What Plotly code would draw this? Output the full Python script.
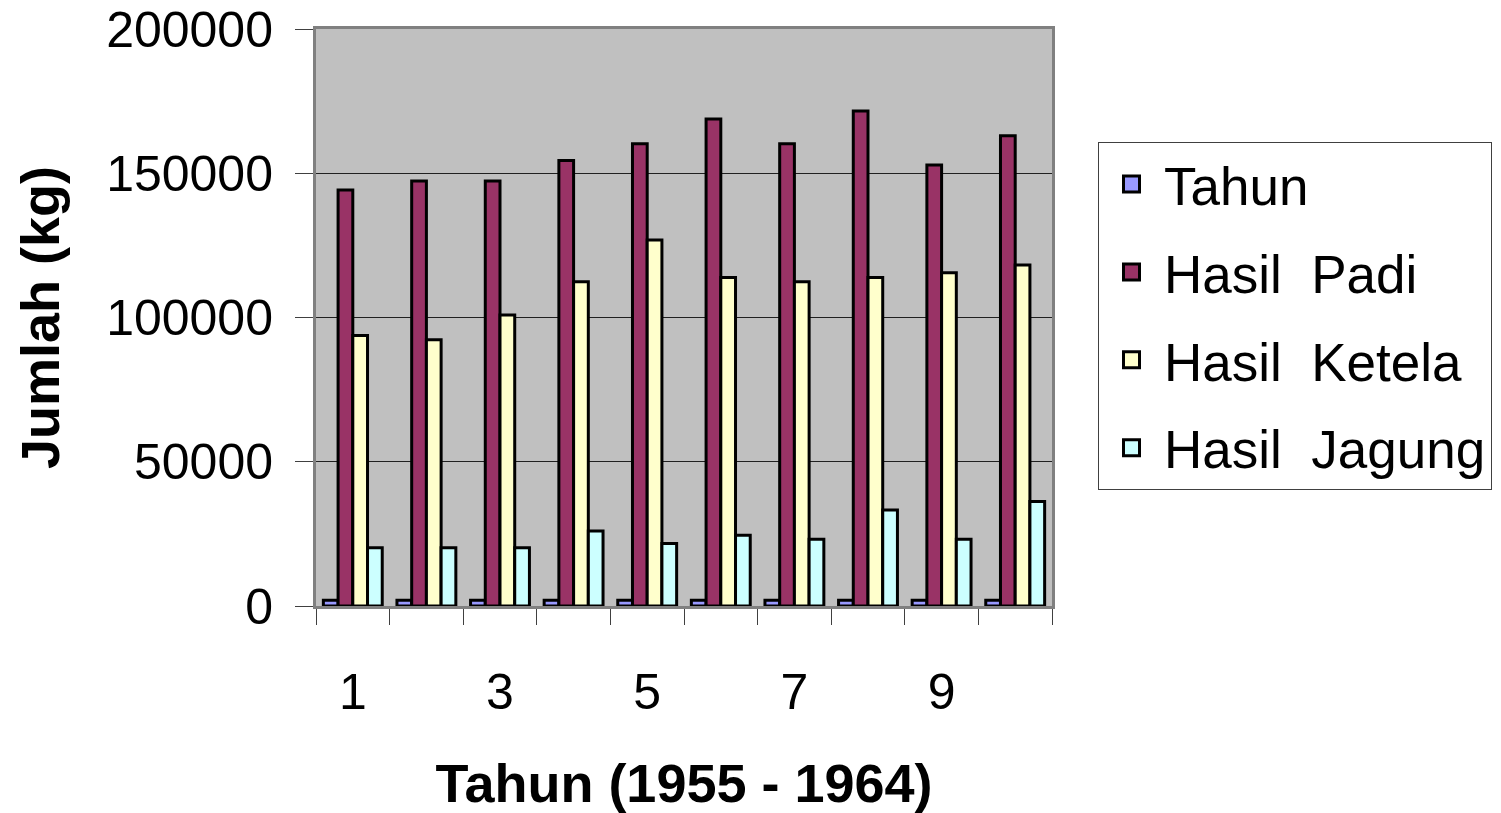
import plotly.graph_objects as go

categories = [1, 2, 3, 4, 5, 6, 7, 8, 9, 10]
tick_labels = ["1", "3", "5", "7", "9"]
tick_positions = [1, 3, 5, 7, 9]
tahun = [1955, 1956, 1957, 1958, 1959, 1960, 1961, 1962, 1963, 1964]
padi = [144200, 147300, 147300, 154400, 160200, 168800, 160200, 171600, 152900, 163000]
ketela = [93800, 92300, 100900, 112400, 126900, 113900, 112400, 113900, 115500, 118200]
jagung = [20200, 20200, 20200, 26000, 21700, 24500, 23100, 33300, 23100, 36200]

series = [
    ("Tahun", tahun, "#9999FF"),
    ("Hasil\u00a0 Padi", padi, "#993366"),
    ("Hasil\u00a0 Ketela", ketela, "#FFFFCC"),
    ("Hasil\u00a0 Jagung", jagung, "#CCFFFF"),
]

FONT = "Arial, Liberation Sans, sans-serif"

fig = go.Figure()
for i, (name, vals, col) in enumerate(series):
    fig.add_trace(go.Bar(
        x=categories, y=vals, name=name, legendgroup=f"g{i}", showlegend=False,
        marker=dict(color=col, line=dict(color="black", width=3)),
    ))
    # legend entry with a larger square swatch
    fig.add_trace(go.Scatter(
        x=[None], y=[None], mode="markers", name=name, legendgroup=f"g{i}",
        marker=dict(symbol="square", size=16, color=col, line=dict(color="black", width=3)),
    ))

fig.update_layout(
    width=1501, height=813,
    margin=dict(l=316, r=449, t=29, b=207, autoexpand=False),
    paper_bgcolor="white", plot_bgcolor="#C0C0C0",
    barmode="group", bargap=0.2, bargroupgap=0,
    font=dict(family=FONT, color="black", size=50),
    showlegend=True,
    legend=dict(
        x=1.0625, y=0.8040, xanchor="left", yanchor="top",
        bgcolor="white", bordercolor="#404040", borderwidth=1,
        font=dict(family=FONT, size=53, color="black"),
        tracegroupgap=16, itemwidth=55,
    ),
    xaxis=dict(
        range=[0.5, 10.5], tickvals=tick_positions, ticktext=tick_labels,
        ticks="outside", ticklen=40, tickcolor="rgba(0,0,0,0)",
        tickfont=dict(size=50, family=FONT),
        minor=dict(tickvals=[0.5 + k for k in range(11)], ticks="outside",
                   ticklen=16, tickcolor="#404040", tickwidth=1),
        showline=True, linecolor="#808080", linewidth=3, mirror=True,
        showgrid=False, zeroline=False,
        title=dict(text="<b>Tahun (1955 - 1964)</b>", font=dict(size=54, family=FONT), standoff=48),
    ),
    yaxis=dict(
        range=[0, 200000], dtick=50000, tickformat="d",
        ticks="outside", ticklen=18, tickcolor="#404040",
        tickfont=dict(size=50, family=FONT), ticklabelstandoff=12,
        showline=True, linecolor="#808080", linewidth=3, mirror=True,
        showgrid=True, gridcolor="#202020", gridwidth=1, zeroline=False,
        title=dict(text="<b>Jumlah (kg)</b>", font=dict(size=54, family=FONT), standoff=30),
    ),
)

fig.write_html("out.html", config={"displayModeBar": False},
               post_script="document.body.style.margin='0';")
